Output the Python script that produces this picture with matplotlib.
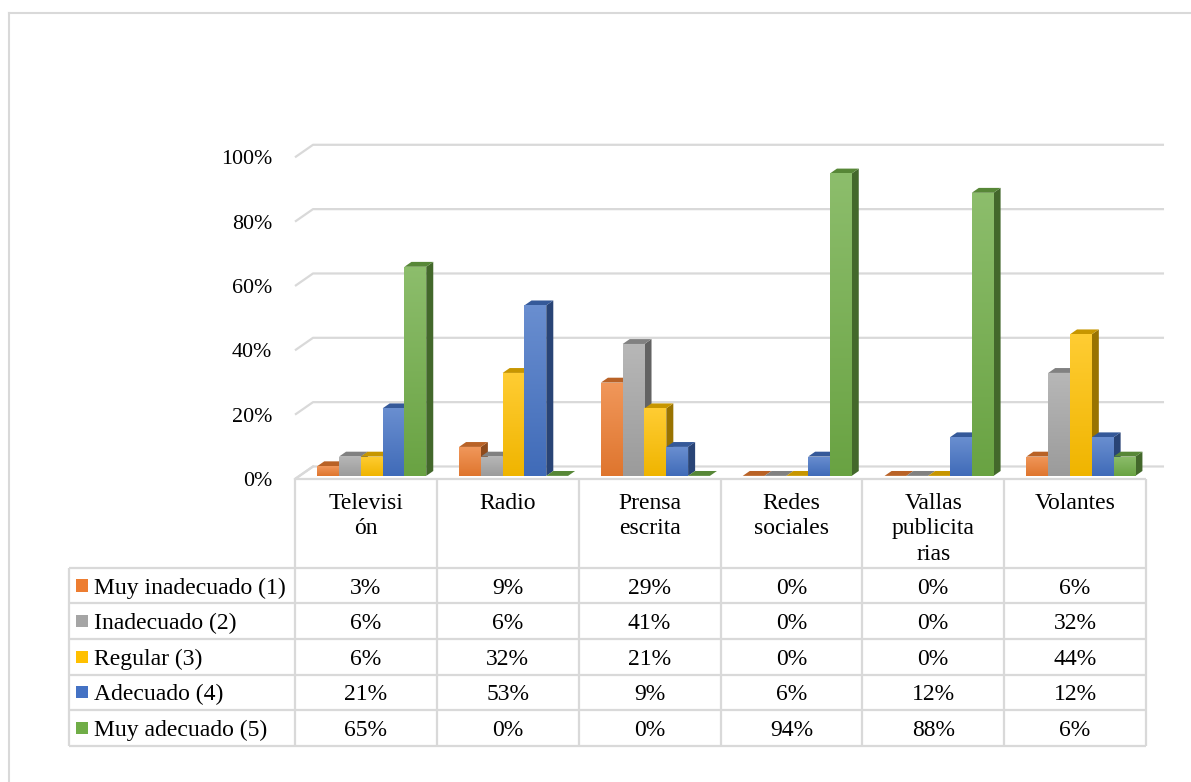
import matplotlib
matplotlib.use("Agg")
import matplotlib.pyplot as plt
import numpy as np
from matplotlib.colors import to_rgb
from matplotlib.lines import Line2D
from matplotlib.patches import Polygon, Rectangle

plt.rcParams["font.family"] = ["Liberation Serif", "DejaVu Serif"]

categories = ["Televisi\nón", "Radio", "Prensa\nescrita", "Redes\nsociales",
              "Vallas\npublicita\nrias", "Volantes"]
series = ["Muy inadecuado (1)", "Inadecuado (2)", "Regular (3)", "Adecuado (4)",
          "Muy adecuado (5)"]
muy_inadecuado = [3, 9, 29, 0, 0, 6]
inadecuado = [6, 6, 41, 0, 0, 32]
regular = [6, 32, 21, 0, 0, 44]
adecuado = [21, 53, 9, 6, 12, 12]
muy_adecuado = [65, 0, 0, 94, 88, 6]
values = [muy_inadecuado, inadecuado, regular, adecuado, muy_adecuado]
y_ticks = [0, 20, 40, 60, 80, 100]

colors = ["#ED7D31", "#A5A5A5", "#FFC000", "#4472C4", "#70AD47"]

# fake 3d geometry (oblique projection)
DX, DY = 0.127, 3.89        # full depth offset in (column, percent) units
Z0, Z1 = 0.25, 0.64          # bar depth span
BAR_W = 0.1537
GROUP_LEFT = 0.125
GRID = "#d9d9d9"


def mix(c, other, t):
    c = np.array(to_rgb(c))
    o = np.array(to_rgb(other))
    return tuple(c * (1 - t) + o * t)


def proj(x, y, z):
    return (x + z * DX, y + z * DY)


W, H = 1191, 782
fig = plt.figure(figsize=(W / 100, H / 100), dpi=100)

# chart frame (left and top edge only visible)
fig.add_artist(Line2D([8.5 / W, 8.5 / W], [0, 1 - 13 / H], color="#d9d9d9", lw=1.5))
fig.add_artist(Line2D([8.5 / W, 1], [1 - 13 / H, 1 - 13 / H], color="#d9d9d9", lw=1.5))

# chart axes: front plane, x in category columns, y in percent
x_left, x_right = 295, 1146
y_zero, y_hundred = 479, 157.3
ax = fig.add_axes([x_left / W, 1 - y_zero / H, (x_right - x_left) / W,
                   (y_zero - y_hundred) / H])
n = len(categories)

# back wall gridlines with the left diagonal
for t in y_ticks:
    bx0, by = proj(0, t, 1)
    bx1, _ = proj(n, t, 1)
    ax.plot([0, bx0, bx1], [t, by, by], color=GRID, lw=1.6, clip_on=False,
            zorder=1, solid_capstyle="butt")
# floor left edge
ax.plot([0, DX], [0, DY], color=GRID, lw=1.6, clip_on=False, zorder=1)

grad = np.linspace(0, 1, 64).reshape(-1, 1)
zo = 2
for i in range(n):
    for j, (vals, col) in enumerate(zip(values, colors)):
        v = vals[i]
        x0 = i + GROUP_LEFT + j * BAR_W
        x1 = x0 + BAR_W
        top_col = mix(col, "black", 0.22)
        side_col = mix(col, "black", 0.4)
        # right side
        side = Polygon([proj(x1, 0, Z0), proj(x1, v, Z0), proj(x1, v, Z1), proj(x1, 0, Z1)],
                       closed=True, facecolor=side_col, edgecolor="none",
                       clip_on=False, zorder=zo)
        ax.add_patch(side)
        # top
        top = Polygon([proj(x0, v, Z0), proj(x1, v, Z0), proj(x1, v, Z1), proj(x0, v, Z1)],
                      closed=True, facecolor=top_col, edgecolor="none",
                      clip_on=False, zorder=zo)
        ax.add_patch(top)
        # front face with a light vertical gradient
        if v > 0:
            fx0, fy0 = proj(x0, 0, Z0)
            bars = ax.bar(fx0, v, width=BAR_W, bottom=fy0, align="edge",
                          color=col, zorder=zo + 0.5, clip_on=False)
            top_rgb = np.array(mix(col, "white", 0.2))
            bot_rgb = np.array(mix(col, "black", 0.06))
            img = bot_rgb * (1 - grad[..., None]) + top_rgb * grad[..., None]
            img = img.reshape(64, 1, 3)
            im = ax.imshow(img, extent=[fx0, fx0 + BAR_W, fy0, fy0 + v],
                           origin="lower", aspect="auto", zorder=zo + 0.6,
                           interpolation="bilinear")
            im.set_clip_path(bars.patches[0])
        zo += 1

ax.set_xlim(0, n)
ax.set_ylim(0, 100)
for s in ax.spines.values():
    s.set_visible(False)
ax.set_xticks([])
ax.set_yticks(y_ticks)
ax.set_yticklabels([f"{t}%" for t in y_ticks], fontsize=15.8)
ax.tick_params(axis="y", length=0, pad=16.5)
ax.patch.set_alpha(0)

# data table below the chart
t_left, t_bottom, t_top = 69, 745.7, 479
row_h = 35.6
header_h = 88.7
n_rows = len(series)
label_w = (x_left - t_left) / ((x_right - x_left) / n)   # label column width in column units
tax = fig.add_axes([t_left / W, 1 - t_bottom / H, (x_right - t_left) / W,
                    (t_bottom - t_top) / H])
tax.set_xlim(-label_w, n)
total_h = n_rows + header_h / row_h
tax.set_ylim(0, total_h)
tax.axis("off")

lw_t = 1.6
# horizontal lines
for r in range(n_rows + 1):
    tax.plot([-label_w, n], [r, r], color=GRID, lw=lw_t, clip_on=False,
             solid_capstyle="butt")
tax.plot([0, n], [total_h, total_h], color=GRID, lw=lw_t, clip_on=False,
         solid_capstyle="butt")
# vertical lines
for c in range(n + 1):
    tax.plot([c, c], [0, total_h], color=GRID, lw=lw_t, clip_on=False,
             solid_capstyle="butt")
tax.plot([-label_w, -label_w], [0, n_rows], color=GRID, lw=lw_t, clip_on=False,
         solid_capstyle="butt")

fs = 17
# header
for c, name in enumerate(categories):
    tax.text(c + 0.5, total_h - 0.38, name, ha="center", va="top", fontsize=fs,
             linespacing=1.3)
# rows
sq = 12 / ((x_right - x_left) / n)
for r, (name, vals, col) in enumerate(zip(series, values, colors)):
    yc = n_rows - r - 0.5
    tax.add_patch(Rectangle((-label_w + 7 / 141.8, yc - 0.17), sq, 0.34,
                            facecolor=col, edgecolor="none", clip_on=False))
    tax.text(-label_w + 25 / 141.8, yc, name, ha="left", va="center_baseline",
             fontsize=fs)
    for c, v in enumerate(vals):
        tax.text(c + 0.5, yc, f"{v}%", ha="center", va="center_baseline", fontsize=fs)

fig.savefig("out.png", dpi=100, facecolor="white")
